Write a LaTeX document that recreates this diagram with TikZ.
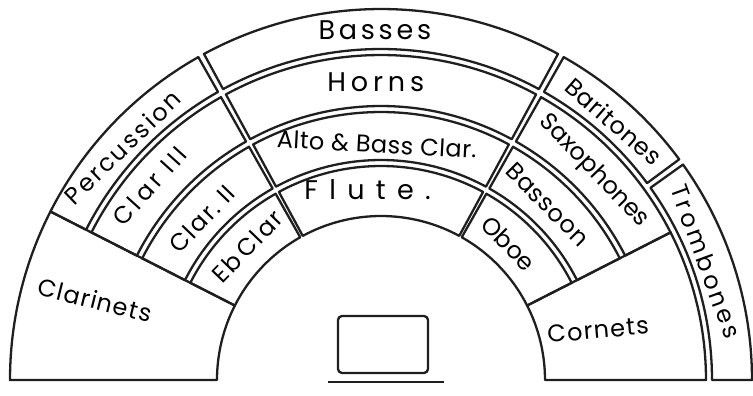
\documentclass[tikz,border=0pt]{standalone}
\usepackage{fontspec}
\setmainfont{Poppins}
\newcommand{\hand}{\fontsize{24}{28}\selectfont}
\newcommand{\bighand}{\fontsize{27}{31}\selectfont}
\begin{document}
\begin{tikzpicture}[x=1pt, y=1pt, line width=2.3pt, line join=round,
    draw=black!88,
    lbl/.style={font=\hand, inner sep=0pt},
    wide/.style={font=\hand\addfontfeatures{LetterSpace=#1}, inner sep=0pt},
    mid/.style={font=\bighand\addfontfeatures{LetterSpace=#1}, inner sep=0pt}]
  \useasboundingbox (-381,-16) rectangle (372,380);
  % seats: inner radius / outer radius / start angle / end angle
  \foreach \ri/\ro/\a/\b in {
      331/371/61.5/118.5, 274/325/61.5/118.5, 220/268/61.5/118.5, 164/214/61.5/118.5,
      331/371/119.5/153, 274/325/119.5/153, 220/268/119.5/153, 164/214/119.5/153,
      164/371/153/180,
      331/371/36.5/60.5, 274/325/27/60.5, 220/268/27/60.5, 164/214/27/60.5,
      331/371/0/35.5, 164/325/0/27}
    \draw (\a:\ri) arc[start angle=\a, end angle=\b, radius=\ri pt]
      -- (\b:\ro) arc[start angle=\b, end angle=\a, radius=\ro pt] -- cycle;
  % middle block
  \node[mid=14] (basses) at (91:350) {Basses};
  \node[mid=18] (horns) at (91:298) {Horns};
  \node[wide=2, rotate=-3] (altobass) at (91:236) {Alto \& Bass Clar.};
  \node[mid=42] (flute) at (94:191) {Flute.};
  % left wing
  \node[wide=10, rotate=44] (percussion) at (138:348) {Percussion};
  \node[wide=16, rotate=48] (clarthree) at (140:302) {Clar III};
  \node[wide=7, rotate=46] (clartwo) at (138:241) {Clar.\ II};
  \node[wide=8, rotate=46] (ebclar) at (135:189) {Eb\,Clar};
  \node[wide=5, rotate=-14] (clarinets) at (-286,80) {Clarinets};
  % right wing
  \node[wide=3, rotate=-41] (baritones) at (48:348) {Baritones};
  \node[lbl, rotate=-46] (saxophones) at (44.5:298) {Saxophones};
  \node[wide=3, rotate=-45] (bassoon) at (46.5:242) {Bassoon};
  \node[lbl, rotate=-45] (oboe) at (47:187) {Oboe};
  \node[wide=5, rotate=5] (cornets) at (217,50) {Cornets};
  \node[wide=13, rotate=-70] (trombones) at (20:346) {Trombones};
  % podium
  \node[draw, rounded corners=4pt, minimum width=90pt, minimum height=57pt,
    inner sep=0pt] (podium) at (2,35.5) {};
  \draw ([xshift=-9pt, yshift=-8pt]podium.south west)
    -- ([xshift=15pt, yshift=-8pt]podium.south east);
\end{tikzpicture}
\end{document}
